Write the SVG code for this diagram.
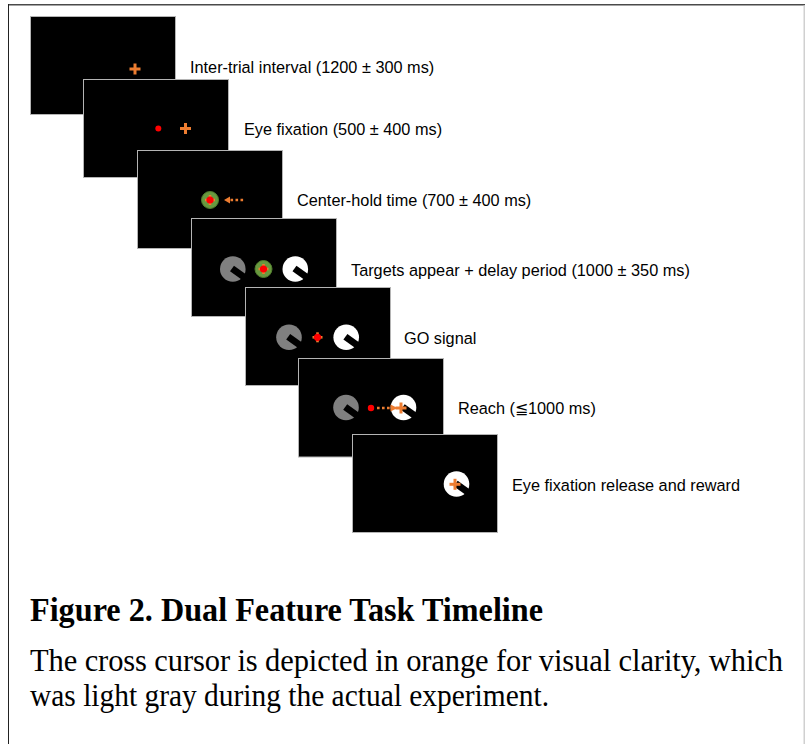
<svg xmlns="http://www.w3.org/2000/svg" width="805" height="744" viewBox="0 0 805 744">
  <style>
    .screen { fill: #000; stroke: #b4b4b4; stroke-width: 1; }
    .label { font-family: "Liberation Sans", Arial, sans-serif; font-size: 16.3px; fill: #000; }
    .title { font-family: "Liberation Serif", "Times New Roman", serif; font-size: 34px; font-weight: bold; fill: #000; }
    .body { font-family: "Liberation Serif", "Times New Roman", serif; font-size: 30.5px; fill: #000; }
    .cross { stroke: #ED7D31; stroke-width: 3; }
    .cross-sm { stroke: #ED7D31; stroke-width: 2.6; }
    .dot { fill: #FF0000; }
    .ring { fill: #68993f; stroke: #507c2e; stroke-width: 1; }
    .dots { stroke: #ED7D31; stroke-width: 2.4; stroke-dasharray: 2.6 2.4; fill: none; }
    .head { fill: #ED7D31; }
    .notch { fill: #000; }
  </style>
  <defs>
    <!-- cross cursor, centred on the origin -->
    <g id="cursor">
      <line class="cross" x1="-5.5" y1="0" x2="5.5" y2="0"/>
      <line class="cross" x1="0" y1="-5.5" x2="0" y2="5.5"/>
    </g>
    <!-- fixation point with the cursor resting on it -->
    <g id="fixcursor">
      <line class="cross-sm" x1="-5" y1="0" x2="5" y2="0"/>
      <line class="cross-sm" x1="0" y1="-5" x2="0" y2="5"/>
      <circle class="dot" r="3.6"/>
    </g>
    <!-- slot cut out of a target disc -->
    <rect id="slot" class="notch" x="-1" y="-3.4" width="16" height="6.8" transform="rotate(36)"/>
  </defs>

  <rect width="805" height="744" fill="#fff"/>

  <!-- page frame -->
  <g id="frame">
    <line x1="8" y1="4.8" x2="805" y2="4.8" stroke="#4a4a4a" stroke-width="1.6"/>
    <line x1="8.5" y1="4" x2="8.5" y2="744" stroke="#222" stroke-width="1"/>
    <line x1="804.2" y1="5" x2="804.2" y2="744" stroke="#c4c4c4" stroke-width="1.2"/>
  </g>

  <!-- 1: inter-trial interval -->
  <g id="step1">
    <rect class="screen" x="30.5" y="16.5" width="145" height="98"/>
    <use href="#cursor" x="135" y="69"/>
    <text class="label" x="190" y="73">Inter-trial interval (1200 ± 300 ms)</text>
  </g>

  <!-- 2: eye fixation -->
  <g id="step2">
    <rect class="screen" x="83.5" y="79.5" width="145" height="98"/>
    <circle class="dot" cx="158.3" cy="128.5" r="3"/>
    <use href="#cursor" x="185.5" y="128.5"/>
    <text class="label" x="244" y="135">Eye fixation (500 ± 400 ms)</text>
  </g>

  <!-- 3: center-hold -->
  <g id="step3">
    <rect class="screen" x="137.5" y="150.5" width="145" height="98"/>
    <circle class="ring" cx="210" cy="200" r="8.5"/>
    <use href="#fixcursor" x="210" y="200"/>
    <line class="dots" x1="230.5" y1="200" x2="244" y2="200"/>
    <polygon class="head" points="224,200 230,196.6 230,203.4"/>
    <text class="label" x="297" y="206">Center-hold time (700 ± 400 ms)</text>
  </g>

  <!-- 4: targets appear + delay -->
  <g id="step4">
    <rect class="screen" x="191.5" y="218.5" width="145" height="98"/>
    <circle cx="232.8" cy="269" r="12.8" fill="#808080"/>
    <use href="#slot" x="232.8" y="269"/>
    <circle cx="295.3" cy="269" r="12.8" fill="#fff"/>
    <use href="#slot" x="295.3" y="269"/>
    <circle class="ring" cx="263.5" cy="269" r="8.5"/>
    <use href="#fixcursor" x="263.5" y="269"/>
    <text class="label" x="351" y="276">Targets appear + delay period (1000 ± 350 ms)</text>
  </g>

  <!-- 5: GO signal -->
  <g id="step5">
    <rect class="screen" x="245.5" y="287.5" width="145" height="98"/>
    <circle cx="289" cy="337.3" r="12.8" fill="#808080"/>
    <use href="#slot" x="289" y="337.3"/>
    <circle cx="346.2" cy="337.3" r="12.8" fill="#fff"/>
    <use href="#slot" x="346.2" y="337.3"/>
    <use href="#fixcursor" x="317.5" y="337.3"/>
    <text class="label" x="404" y="344">GO signal</text>
  </g>

  <!-- 6: reach -->
  <g id="step6">
    <rect class="screen" x="298.5" y="358.5" width="145" height="98.5"/>
    <circle cx="346" cy="407.5" r="12.8" fill="#808080"/>
    <use href="#slot" x="346" y="407.5"/>
    <circle cx="403.5" cy="407.5" r="12.8" fill="#fff"/>
    <use href="#slot" x="403.5" y="407.5"/>
    <circle class="dot" cx="371" cy="408" r="3.2"/>
    <line class="dots" x1="377" y1="408" x2="391" y2="408"/>
    <polygon class="head" points="397.5,408 390.5,404.4 390.5,411.6"/>
    <use href="#cursor" x="401" y="408"/>
    <text class="label" x="458" y="414">Reach (≦1000 ms)</text>
  </g>

  <!-- 7: release and reward -->
  <g id="step7">
    <rect class="screen" x="352.5" y="434.5" width="145" height="98"/>
    <circle cx="456.5" cy="484" r="12.8" fill="#fff"/>
    <use href="#slot" x="456.5" y="484"/>
    <use href="#cursor" x="455" y="484.3"/>
    <text class="label" x="512" y="491">Eye fixation release and reward</text>
  </g>

  <!-- caption -->
  <g id="caption">
    <text class="title" x="30" y="621" textLength="513" lengthAdjust="spacingAndGlyphs">Figure 2. Dual Feature Task Timeline</text>
    <text class="body" x="30" y="671" textLength="753" lengthAdjust="spacing">The cross cursor is depicted in orange for visual clarity, which</text>
    <text class="body" x="30" y="706" textLength="519" lengthAdjust="spacingAndGlyphs">was light gray during the actual experiment.</text>
  </g>
</svg>
